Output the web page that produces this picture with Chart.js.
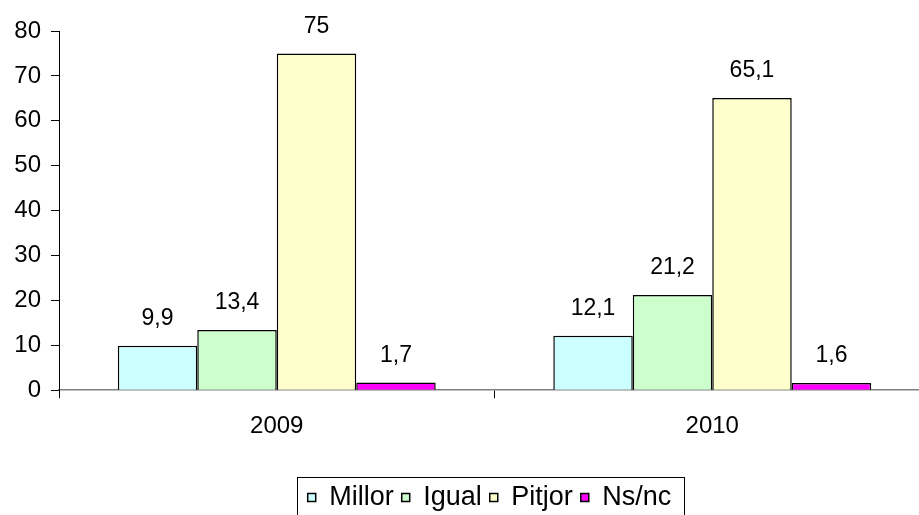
<!DOCTYPE html>
<html>
<head>
<meta charset="utf-8">
<script src="https://cdn.jsdelivr.net/npm/chart.js@4/dist/chart.umd.min.js"></script>
<style>
  html, body { margin: 0; padding: 0; background: #fff; overflow: hidden; }
  #wrap { width: 930px; height: 521px; }
</style>
</head>
<body>
<div id="wrap"><canvas id="myChart" width="930" height="521"></canvas></div>
<script>
  const years = ['2009', '2010'];
  const millor = [9.9, 12.1];
  const igual = [13.4, 21.2];
  const pitjor = [75, 65.1];
  const nsnc = [1.7, 1.6];
  const yTicks = [0, 10, 20, 30, 40, 50, 60, 70, 80];

  const FONT = 'Liberation Sans, Arial, sans-serif';

  // value labels above the bars, decimal comma
  const valueLabels = {
    id: 'valueLabels',
    afterDatasetsDraw(chart) {
      const ctx = chart.ctx;
      ctx.save();
      ctx.font = '23px ' + FONT;
      ctx.fillStyle = '#000';
      ctx.textAlign = 'center';
      ctx.textBaseline = 'middle';
      chart.data.datasets.forEach((ds, i) => {
        chart.getDatasetMeta(i).data.forEach((bar, j) => {
          ctx.fillText(String(ds.data[j]).replace('.', ','), bar.x, bar.y - 27);
        });
      });
      ctx.restore();
    }
  };

  // nudge the legend a bit to the left, then frame it
  const legendFrame = {
    id: 'legendFrame',
    afterLayout(chart) {
      chart.legend.left -= 5;
      chart.legend.right -= 5;
    },
    afterDraw(chart) {
      const boxes = chart.legend.legendHitBoxes;
      if (!boxes || !boxes.length) return;
      let l = Infinity, r = -Infinity, t = Infinity, b = -Infinity;
      boxes.forEach(h => {
        l = Math.min(l, h.left); r = Math.max(r, h.left + h.width);
        t = Math.min(t, h.top); b = Math.max(b, h.top + h.height);
      });
      const cy = (t + b) / 2;
      const ctx = chart.ctx;
      ctx.save();
      ctx.strokeStyle = '#000';
      ctx.lineWidth = 1;
      ctx.strokeRect(Math.round(l - 11) + 0.5, Math.round(cy - 21) + 0.5, Math.round(r - l + 23), 38);
      ctx.restore();
    }
  };

  function ds(label, data, color) {
    return {
      label: label,
      data: data,
      backgroundColor: color,
      borderColor: '#000',
      borderWidth: 1.5,
      categoryPercentage: 0.73,
      barPercentage: 1
    };
  }

  const ctx = document.getElementById('myChart').getContext('2d');
  const chart = new Chart(ctx, {
    type: 'bar',
    data: {
      labels: years,
      datasets: [
        ds('Millor', millor, '#CCFFFF'),
        ds('Igual', igual, '#CCFFCC'),
        ds('Pitjor', pitjor, '#FFFFCC'),
        ds('Ns/nc', nsnc, '#FF00FF')
      ]
    },
    options: {
      responsive: false,
      animation: false,
      layout: { padding: { top: 31, left: 0, right: 0, bottom: 0 } },
      plugins: {
        legend: {
          position: 'bottom',
          fullSize: false,
          labels: {
            font: { family: FONT, size: 27 },
            color: '#000',
            boxWidth: 8,
            boxHeight: 8,
            padding: 8
          }
        },
        tooltip: { enabled: false }
      },
      scales: {
        x: {
          afterFit(scale) { scale.height += 21; },
          grid: { display: true, drawOnChartArea: false, offset: true, tickLength: 8, color: '#000' },
          border: { color: '#808080', width: 1.5 },
          ticks: { font: { family: FONT, size: 24 }, color: '#000', padding: 14 }
        },
        y: {
          min: 0,
          max: 80,
          afterBuildTicks(scale) { scale.ticks = yTicks.map(v => ({ value: v })); },
          afterFit(scale) { scale.width = 59; },
          grid: { display: true, drawOnChartArea: false, tickLength: 8, color: '#000' },
          border: { color: '#000', width: 1 },
          ticks: { font: { family: FONT, size: 24 }, color: '#000', padding: 10 }
        }
      }
    },
    plugins: [valueLabels, legendFrame]
  });
</script>
</body>
</html>
